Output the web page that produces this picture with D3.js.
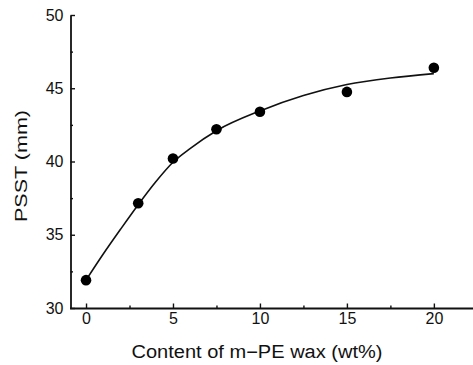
<!DOCTYPE html>
<html>

<head>
  <meta charset="UTF-8">
  <title>PSST vs m-PE wax</title>
  <script src="https://d3js.org/d3.v7.min.js"></script>
  <style>
    body { margin: 0; background: #fff; }
    text { font-family: "Liberation Sans", Arial, sans-serif; fill: #111; }
  </style>
</head>

<body>
  <svg></svg>
</body>

<script>
  let width = 473,
    height = 365;

  // measured points
  let waxContent = [0, 3, 5, 7.5, 10, 15, 20];
  let psst = [31.9, 37.15, 40.2, 42.2, 43.4, 44.75, 46.4];

  // fitted curve
  let fitX = [0, 1, 2, 3, 4, 5, 6, 7.5, 10, 12.5, 15, 17.5, 20];
  let fitY = [31.9, 33.7, 35.4, 37.05, 38.6, 39.95, 40.9, 42.1, 43.45, 44.5, 45.25, 45.7, 46.0];

  let xTicks = [0, 5, 10, 15, 20];
  let xMinor = [2.5, 7.5, 12.5, 17.5];
  let yTicks = [30, 35, 40, 45, 50];
  let yMinor = [32.5, 37.5, 42.5, 47.5];

  let svg = d3.select("svg")
    .attr("width", width)
    .attr("height", height);

  let x = d3.scaleLinear().domain([-0.95, 22.25]).range([69.5, 473]);
  let y = d3.scaleLinear().domain([30, 50]).range([308, 15]);

  // minor ticks first
  svg.append("g")
    .attr("transform", "translate(0,308)")
    .call(d3.axisBottom(x).tickValues(xMinor).tickSizeInner(-2.5).tickSizeOuter(0).tickFormat(""))
    .call(g => g.select(".domain").remove());

  svg.append("g")
    .attr("transform", "translate(70.5,0)")
    .call(d3.axisLeft(y).tickValues(yMinor).tickSizeInner(-2.5).tickSizeOuter(0).tickFormat(""))
    .call(g => g.select(".domain").remove());

  let xAxis = svg.append("g")
    .attr("transform", "translate(0,308)")
    .call(d3.axisBottom(x).tickValues(xTicks).tickSizeInner(-4.5).tickSizeOuter(0).tickPadding(5));

  let yAxis = svg.append("g")
    .attr("transform", "translate(70.5,0)")
    .call(d3.axisLeft(y).tickValues(yTicks).tickSizeInner(-4.5).tickSizeOuter(0).tickPadding(7));

  svg.selectAll(".domain").attr("stroke", "#111").attr("stroke-width", 1.8);
  svg.selectAll(".tick line").attr("stroke", "#111").attr("stroke-width", 1.4);
  svg.selectAll(".tick text").style("font-size", "16px").attr("fill", "#111");

  // fitted curve
  let line = d3.line()
    .x(d => x(d[0]))
    .y(d => y(d[1]))
    .curve(d3.curveMonotoneX);

  svg.append("path")
    .datum(fitX.map((v, i) => [v, fitY[i]]))
    .attr("fill", "none")
    .attr("stroke", "#111")
    .attr("stroke-width", 1.6)
    .attr("d", line);

  // data points
  svg.append("g")
    .selectAll("circle")
    .data(waxContent.map((v, i) => [v, psst[i]]))
    .enter()
    .append("circle")
    .attr("cx", d => x(d[0]))
    .attr("cy", d => y(d[1]))
    .attr("r", 5.3)
    .attr("fill", "#000");

  // titles
  svg.append("text")
    .attr("x", 257)
    .attr("y", 358)
    .attr("text-anchor", "middle")
    .attr("textLength", 251)
    .attr("lengthAdjust", "spacingAndGlyphs")
    .style("font-size", "18px")
    .text("Content of m\u2212PE wax (wt%)");

  svg.append("text")
    .attr("transform", "translate(26.5,166) rotate(-90)")
    .attr("text-anchor", "middle")
    .attr("textLength", 112)
    .attr("lengthAdjust", "spacingAndGlyphs")
    .style("font-size", "17px")
    .text("PSST (mm)");
</script>

</html>
